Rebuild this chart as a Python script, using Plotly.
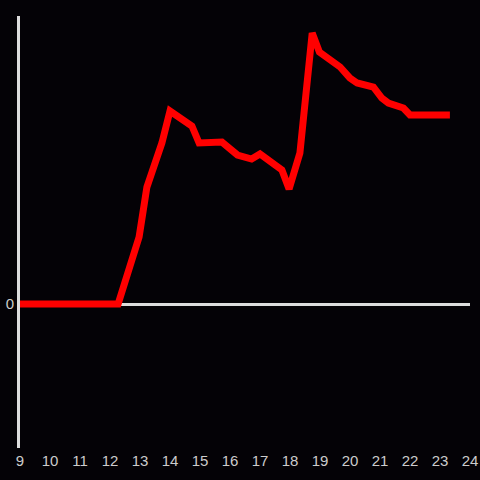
import plotly.graph_objects as go

hours = [9, 12.27, 12.97, 13.23, 13.73, 14.0, 14.73, 14.97, 15.73, 16.03, 16.25, 16.72,
         17.0, 17.73, 17.97, 18.33, 18.74, 18.98, 19.67, 20.0, 20.24, 20.78, 21.06,
         21.28, 21.78, 22.0, 23.33]
values = [0, 0, 67, 117, 161, 193, 178, 161, 162, 154, 149, 145, 150, 134, 115, 151,
          271, 252, 237, 226, 221, 217, 206, 201, 196, 189, 189]
x_ticks = list(range(9, 25))
y_ticks = [0]

fig = go.Figure()
fig.add_trace(go.Scatter(x=hours, y=values, mode="lines",
                         line=dict(color="#ff0000", width=7), hoverinfo="skip"))

fig.update_layout(
    width=480, height=480,
    paper_bgcolor="#040206", plot_bgcolor="#040206",
    margin=dict(l=20, r=10, t=16, b=32),
    showlegend=False,
    font=dict(family="Liberation Sans, Arial, sans-serif", size=15, color="#cccccc"),
)
fig.update_xaxes(range=[9, 24], tickvals=x_ticks, ticktext=[str(t) for t in x_ticks],
                 showgrid=False, zeroline=False, showline=False, ticks="", automargin=False,
                 ticklabelstandoff=2)
fig.update_yaxes(range=[-144, 288], tickvals=y_ticks, ticktext=["0"], automargin=False,
                 showgrid=False, zeroline=True, zerolinecolor="#dddddd", zerolinewidth=3,
                 showline=True, linecolor="#dddddd", linewidth=3, ticks="")

fig.write_html("out.html", config={"displayModeBar": False},
               post_script="document.body.style.margin='0';document.body.style.background='#040206';")
